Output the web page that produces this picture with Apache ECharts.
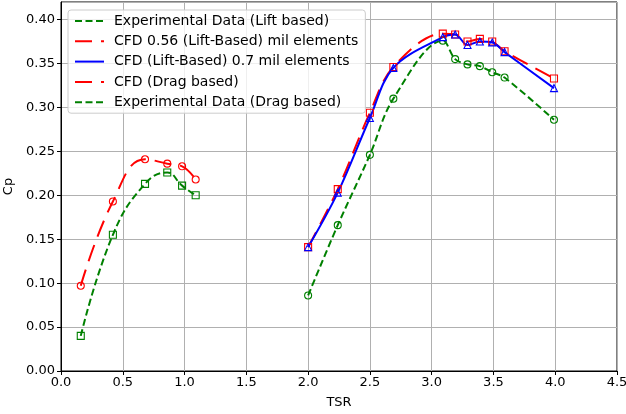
<!DOCTYPE html>
<html>
<head>
<meta charset="utf-8">
<script src="https://cdn.jsdelivr.net/npm/echarts@6/dist/echarts.min.js"></script>
<style>html,body{margin:0;padding:0;background:#fff;}#c{width:626px;height:414px;}</style>
</head>
<body>
<div id="c"></div>
<script>
// ---- data ----
const tsrLift = [2.0, 2.24, 2.5, 2.69, 3.09, 3.19, 3.29, 3.39, 3.49, 3.59, 3.99];
const expLift = [0.086, 0.166, 0.246, 0.310, 0.376, 0.355, 0.349, 0.347, 0.340, 0.334, 0.286];
const cfd056 = [0.141, 0.207, 0.294, 0.346, 0.384, 0.383, 0.375, 0.378, 0.375, 0.364, 0.333];
const cfd07 = [0.141, 0.203, 0.288, 0.345, 0.380, 0.383, 0.371, 0.375, 0.374, 0.363, 0.322];
const tsrDrag = [0.16, 0.42, 0.68, 0.86, 0.98, 1.09];
const cfdDrag = [0.097, 0.193, 0.241, 0.236, 0.233, 0.218];
const expDrag = [0.040, 0.155, 0.213, 0.226, 0.211, 0.200];
const seriesNames = [
  'Experimental Data (Lift based)',
  'CFD 0.56 (Lift-Based) mil elements',
  'CFD (Lift-Based) 0.7 mil elements',
  'CFD (Drag based)',
  'Experimental Data (Drag based)'
];

const zip = (xs, ys) => xs.map((x, i) => [x, ys[i]]);
const FONT = 'DejaVu Sans';
const GREEN = '#008000', RED = '#ff0000', BLUE = '#0000ff';
const greenDash = [7, 3.5];
const redDash = [17, 9];

function mk(name, xs, ys, color, dash, symbol, smooth) {
  return {
    name: name, type: 'line', data: zip(xs, ys), smooth: smooth,
    symbol: symbol, symbolSize: 7, showSymbol: true,
    lineStyle: { color: color, width: 2, type: dash },
    itemStyle: { color: 'transparent', borderColor: color, borderWidth: 1.1 },
    emphasis: { disabled: true }, animation: false
  };
}

const chart = echarts.init(document.getElementById('c'), null, { renderer: 'canvas' });
chart.setOption({
  animation: false,
  textStyle: { fontFamily: FONT },
  grid: { left: 61, right: 9, top: 2, bottom: 43, outerBoundsMode: 'none', containLabel: false,
          show: true, borderColor: '#000', borderWidth: 1, backgroundColor: 'transparent' },
  xAxis: {
    type: 'value', min: 0, max: 4.5, interval: 0.5,
    name: 'TSR', nameLocation: 'middle', nameGap: 25,
    nameTextStyle: { fontFamily: FONT, fontSize: 13, color: '#000' },
    axisLine: { show: true, lineStyle: { color: '#000', width: 1 } },
    axisTick: { show: true, length: 4, lineStyle: { color: '#000' } },
    axisLabel: { fontFamily: FONT, fontSize: 13, color: '#000', margin: 5, formatter: v => v.toFixed(1) },
    splitLine: { show: true, lineStyle: { color: '#b0b0b0', width: 1 } }
  },
  yAxis: {
    type: 'value', min: 0, max: 0.42, interval: 0.05,
    name: 'Cp', nameLocation: 'middle', nameGap: 40, nameRotate: 90,
    nameTextStyle: { fontFamily: FONT, fontSize: 13, color: '#000' },
    axisLine: { show: true, lineStyle: { color: '#000', width: 1 } },
    axisTick: { show: true, length: 4, lineStyle: { color: '#000' } },
    axisLabel: { fontFamily: FONT, fontSize: 13, color: '#000', margin: 6, showMaxLabel: false, formatter: v => v.toFixed(2) },
    splitLine: { show: true, lineStyle: { color: '#b0b0b0', width: 1 } }
  },
  legend: {
    orient: 'vertical', left: 68, top: 10,
    itemWidth: 29, itemHeight: 14, itemGap: 4.3,
    padding: [3, 7, 3, 6],
    backgroundColor: 'rgba(255,255,255,0.8)', borderColor: '#cccccc', borderWidth: 1, borderRadius: 3,
    textStyle: { fontFamily: FONT, fontSize: 14, color: '#000', padding: [0, 0, 0, 5], lineHeight: 16 },
    itemStyle: { color: 'transparent', borderColor: 'transparent', borderWidth: 0 },
    selectedMode: false,
    data: seriesNames
  },
  series: [
    mk(seriesNames[0], tsrLift, expLift, GREEN, greenDash, 'circle', 0.35),
    mk(seriesNames[1], tsrLift, cfd056, RED, redDash, 'rect', 0.35),
    mk(seriesNames[2], tsrLift, cfd07, BLUE, 'solid', 'triangle', 0.35),
    mk(seriesNames[3], tsrDrag, cfdDrag, RED, redDash, 'circle', 0.45),
    mk(seriesNames[4], tsrDrag, expDrag, GREEN, greenDash, 'rect', 0.45)
  ]
});
</script>
</body>
</html>
